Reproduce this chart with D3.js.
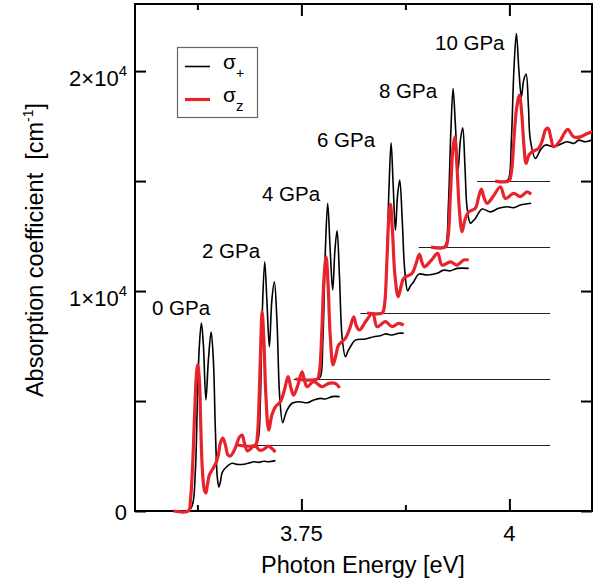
<!DOCTYPE html>
<html><head><meta charset="utf-8">
<script src="https://cdn.jsdelivr.net/npm/d3@7"></script>
<style>
body{margin:0;background:#fff}
svg{display:block}
text{font-family:"Liberation Sans",Arial,Helvetica,sans-serif;fill:#000}
</style>
</head><body>
<svg id="c" width="604" height="586"></svg>
<script>
// ---------------- data ----------------
const pressures = ["0 GPa","2 GPa","4 GPa","6 GPa","8 GPa","10 GPa"];
const offsets = [0, 3000, 6000, 9000, 12000, 15000];
const baselineStart = [null, 3.6715, 3.7407, 3.8209, 3.8910, 3.9612];
const baselineEnd = 4.049;

const xMajorTicks = [3.75, 4.0];
const xMinorTicks = [3.625, 3.875];
const xTickLabels = ["3.75", "4"];
const yMajorTicks = [0, 10000, 20000];
const yMinorTicks = [5000, 15000];
const yTickMantissa = ["0", "1\u00d710", "2\u00d710"];
const yTickExponent = ["", "4", "4"];

const sigmaPlus_0 = [[3.5986,0],[3.6142,0],[3.6190,270],[3.6226,1860],[3.6250,5050],[3.6274,7550],[3.6298,8550],[3.6322,7550],[3.6352,5050],[3.6382,6860],[3.6415,8140],[3.6442,6860],[3.6466,3680],[3.6490,1500],[3.6508,1090],[3.6526,1320],[3.6550,1770],[3.6599,2000],[3.6667,2170],[3.6727,2120],[3.6827,2140],[3.6887,2200],[3.6927,2240],[3.6987,2210],[3.7047,2260],[3.7107,2240],[3.7188,2290]];
const sigmaZ_0 = [[3.5962,0],[3.6142,0],[3.6166,500],[3.6190,1860],[3.6214,4140],[3.6238,6180],[3.6254,6640],[3.6274,5950],[3.6292,3680],[3.6310,1860],[3.6334,950],[3.6352,820],[3.6370,1180],[3.6394,1640],[3.6427,1860],[3.6454,2050],[3.6478,2230],[3.6502,2550],[3.6526,3090],[3.6556,3320],[3.6587,3000],[3.6617,2550],[3.6647,2500],[3.6683,2680],[3.6719,3000],[3.6755,3360],[3.6787,3450],[3.6815,3090],[3.6851,2730],[3.6887,2820],[3.6923,2950],[3.6959,2910],[3.6995,2770],[3.7031,2770],[3.7067,2860],[3.7103,2950],[3.7139,2860],[3.7188,2680]];

const sigmaPlus_2 = [[3.6727,0],[3.6947,0],[3.6983,320],[3.7007,2050],[3.7031,6140],[3.7059,8330],[3.7085,6590],[3.7115,4470],[3.7145,6590],[3.7175,7420],[3.7206,5680],[3.7239,2200],[3.7275,1010],[3.7302,1320],[3.7328,1590],[3.7388,1900],[3.7468,1970],[3.7569,1920],[3.7648,2050],[3.7728,2120],[3.7788,2090],[3.7869,2200],[3.7960,2200]];
const sigmaZ_2 = [[3.6727,0],[3.6947,0],[3.6971,450],[3.6995,2500],[3.7013,4770],[3.7028,6060],[3.7049,4770],[3.7073,2270],[3.7107,680],[3.7145,1360],[3.7188,1740],[3.7248,1970],[3.7296,2500],[3.7340,3110],[3.7374,2590],[3.7407,2270],[3.7458,2730],[3.7508,3330],[3.7536,2950],[3.7569,2650],[3.7648,2880],[3.7749,2650],[3.7828,2800],[3.7909,2800],[3.7960,2600]];

const sigmaPlus_4 = [[3.7428,0],[3.7692,0],[3.7728,100],[3.7758,1770],[3.7788,5860],[3.7816,7990],[3.7846,5860],[3.7876,4050],[3.7903,5860],[3.7929,6740],[3.7957,4730],[3.7989,1920],[3.8029,1010],[3.8059,1270],[3.8089,1470],[3.8149,1770],[3.8269,1820],[3.8369,1920],[3.8450,1970],[3.8510,2050],[3.8590,2000],[3.8669,2080],[3.8730,2080]];
const sigmaZ_4 = [[3.7428,0],[3.7689,0],[3.7716,320],[3.7746,2230],[3.7770,4500],[3.7797,5560],[3.7821,4270],[3.7846,2000],[3.7881,640],[3.7915,1090],[3.7948,1550],[3.8029,1850],[3.8083,2320],[3.8129,2830],[3.8161,2410],[3.8197,2230],[3.8269,2590],[3.8357,2990],[3.8410,2380],[3.8510,2610],[3.8590,2380],[3.8669,2530],[3.8730,2450]];

const sigmaPlus_6 = [[3.8290,0],[3.8462,0],[3.8489,90],[3.8522,1950],[3.8552,5590],[3.8578,7740],[3.8603,5820],[3.8630,3770],[3.8656,5360],[3.8682,6050],[3.8712,4230],[3.8742,1950],[3.8778,1010],[3.8810,1230],[3.8850,1420],[3.8910,1770],[3.9011,1730],[3.9131,1810],[3.9210,1950],[3.9291,1920],[3.9371,2030],[3.9511,2030]];
const sigmaZ_6 = [[3.8290,0],[3.8470,0],[3.8498,360],[3.8528,2410],[3.8549,4230],[3.8570,4950],[3.8594,3770],[3.8624,1730],[3.8663,740],[3.8696,1180],[3.8730,1580],[3.8831,1810],[3.8876,2230],[3.8918,2680],[3.8948,2320],[3.8978,2100],[3.9063,2410],[3.9138,2710],[3.9191,2180],[3.9291,2330],[3.9371,2180],[3.9451,2410],[3.9511,2410]];

const sigmaPlus_8 = [[3.9059,0],[3.9207,0],[3.9237,140],[3.9267,1910],[3.9297,5320],[3.9323,7210],[3.9351,5550],[3.9383,3500],[3.9411,4860],[3.9439,5420],[3.9465,3730],[3.9492,1760],[3.9531,1080],[3.9561,1180],[3.9591,1300],[3.9672,1730],[3.9772,1600],[3.9871,1760],[3.9972,1830],[4.0052,1790],[4.0132,1910],[4.0261,1990]];
const sigmaZ_8 = [[3.9059,0],[3.9231,0],[3.9261,410],[3.9291,2360],[3.9319,4410],[3.9343,5010],[3.9369,3730],[3.9399,1680],[3.9431,700],[3.9465,1230],[3.9511,1600],[3.9591,1760],[3.9627,2230],[3.9663,2640],[3.9696,2230],[3.9732,1990],[3.9808,2320],[3.9892,2740],[3.9952,2210],[4.0052,2440],[4.0132,2290],[4.0213,2510],[4.0261,2400]];

const sigmaPlus_10 = [[3.9832,0],[3.9964,0],[3.9994,140],[4.0024,1860],[4.0054,5050],[4.0084,6710],[4.0114,5050],[4.0144,3830],[4.0172,4590],[4.0201,4860],[4.0228,3450],[4.0252,1860],[4.0313,1030],[4.0373,1410],[4.0433,1640],[4.0532,1560],[4.0633,1710],[4.0694,1790],[4.0773,1710],[4.0833,1860],[4.0913,1790],[4.0994,1860],[4.1100,1880]];
const sigmaZ_10 = [[3.9832,0],[3.9992,0],[4.0024,410],[4.0054,1860],[4.0084,3230],[4.0120,3910],[4.0150,3000],[4.0174,1640],[4.0201,800],[4.0234,1180],[4.0273,1330],[4.0352,1490],[4.0397,1860],[4.0433,2320],[4.0465,2400],[4.0499,1960],[4.0532,1560],[4.0613,1860],[4.0661,2180],[4.0701,2350],[4.0773,2010],[4.0853,2010],[4.0925,2140],[4.0994,2240],[4.1100,2300]];

const sigmaPlusSeries = [sigmaPlus_0, sigmaPlus_2, sigmaPlus_4, sigmaPlus_6, sigmaPlus_8, sigmaPlus_10];
const sigmaZSeries = [sigmaZ_0, sigmaZ_2, sigmaZ_4, sigmaZ_6, sigmaZ_8, sigmaZ_10];

// ---------------- layout ----------------
const plot = {left: 135, right: 592, top: 4, bottom: 511};
const labelPos = [[152,315],[202,258],[262,200.5],[317,146.5],[379,97.5],[435,49.5]];
const RED = "#e8232b";

const svg = d3.select("#c");
const x = d3.scaleLinear().domain([3.55, 4.1]).range([plot.left, plot.right + 0.6]);
const y = d3.scaleLinear().domain([0, 23050]).range([plot.bottom, plot.top]);

svg.append("defs").append("clipPath").attr("id","clip")
  .append("rect").attr("x", plot.left).attr("y", plot.top)
  .attr("width", plot.right - plot.left).attr("height", plot.bottom - plot.top + 3);

// axes (ticks inward)
function axisStyle(sel) {
  sel.select(".domain").remove();
  sel.selectAll("line").attr("stroke","#000").attr("stroke-width",2);
  sel.selectAll("text").remove();
}
svg.append("g").attr("transform",`translate(0,${plot.bottom})`)
  .call(d3.axisBottom(x).tickValues(xMajorTicks).tickSize(-12)).call(axisStyle);
svg.append("g").attr("transform",`translate(0,${plot.bottom})`)
  .call(d3.axisBottom(x).tickValues(xMinorTicks).tickSize(-6)).call(axisStyle);
svg.append("g").attr("transform",`translate(0,${plot.top})`)
  .call(d3.axisTop(x).tickValues(xMajorTicks).tickSize(-12)).call(axisStyle);
svg.append("g").attr("transform",`translate(0,${plot.top})`)
  .call(d3.axisTop(x).tickValues(xMinorTicks).tickSize(-6)).call(axisStyle);
svg.append("g").attr("transform",`translate(${plot.left},0)`)
  .call(d3.axisLeft(y).tickValues(yMajorTicks.concat(yMinorTicks)).tickSize(-11)).call(axisStyle);
svg.append("g").attr("transform",`translate(${plot.right},0)`)
  .call(d3.axisRight(y).tickValues(yMajorTicks.concat(yMinorTicks)).tickSize(-11)).call(axisStyle);

// frame
svg.append("rect").attr("x", plot.left).attr("y", plot.top)
  .attr("width", plot.right - plot.left).attr("height", plot.bottom - plot.top)
  .attr("fill","none").attr("stroke","#000").attr("stroke-width",2);

const g = svg.append("g").attr("clip-path","url(#clip)");

// baselines
offsets.forEach((off, i) => {
  if (baselineStart[i] == null) return;
  const yy = Math.round(y(off)) + 0.5;
  g.append("line")
    .attr("x1", x(baselineStart[i])).attr("x2", x(baselineEnd))
    .attr("y1", yy).attr("y2", yy)
    .attr("stroke", "#222").attr("stroke-width", 1);
});

const line = d3.line().curve(d3.curveCatmullRom.alpha(0.5));

sigmaPlusSeries.forEach((s, i) => {
  g.append("path")
    .attr("d", line(s.map(d => [x(d[0]), y(d[1] + offsets[i])])))
    .attr("fill","none").attr("stroke","#000").attr("stroke-width",1.6)
    .attr("stroke-linejoin","round");
});
sigmaZSeries.forEach((s, i) => {
  g.append("path")
    .attr("d", line(s.map(d => [x(d[0]), y(d[1] + offsets[i])])))
    .attr("fill","none").attr("stroke",RED).attr("stroke-width",3.2)
    .attr("stroke-linejoin","round");
});

// pressure labels
pressures.forEach((p, i) => {
  svg.append("text").attr("x", labelPos[i][0]).attr("y", labelPos[i][1])
    .attr("font-size", 20.5).text(p);
});

// tick labels
xMajorTicks.forEach((t, i) => {
  svg.append("text").attr("x", x(t)).attr("y", 540.5)
    .attr("text-anchor","middle").attr("font-size",22).text(xTickLabels[i]);
});
yMajorTicks.forEach((t, i) => {
  const txt = svg.append("text").attr("x", 127)
    .attr("y", y(t) + (yTickExponent[i] ? 14.5 : 8.5))
    .attr("text-anchor","end").attr("font-size",22);
  txt.append("tspan").text(yTickMantissa[i]);
  if (yTickExponent[i]) txt.append("tspan").attr("dy", -10).attr("font-size",15).text(yTickExponent[i]);
});

// axis titles
svg.append("text").attr("x", (plot.left + plot.right)/2 - 0.5).attr("y", 573)
  .attr("text-anchor","middle").attr("font-size",23.5).text("Photon Energy [eV]");
const yt = svg.append("text").attr("transform","translate(43,250) rotate(-90)")
  .attr("text-anchor","middle").attr("font-size",23.5).attr("xml:space","preserve")
  .style("white-space","pre");
yt.append("tspan").text("Absorption coefficient  [cm");
yt.append("tspan").attr("dy",-10).attr("font-size",14).text("-1");
yt.append("tspan").attr("dy",10).text("]");

// legend
const lg = svg.append("g");
lg.append("rect").attr("x",177.5).attr("y",47.5).attr("width",80).attr("height",70)
  .attr("fill","#fff").attr("stroke","#666").attr("stroke-width",1.2);
lg.append("line").attr("x1",185).attr("x2",210).attr("y1",66.5).attr("y2",66.5)
  .attr("stroke","#000").attr("stroke-width",1.6);
lg.append("line").attr("x1",185).attr("x2",210).attr("y1",99.5).attr("y2",99.5)
  .attr("stroke",RED).attr("stroke-width",3.2);
const l1 = lg.append("text").attr("x",223).attr("y",69).attr("font-size",21);
l1.append("tspan").text("\u03c3");
l1.append("tspan").attr("dy",9).attr("font-size",14).text("+");
const l2 = lg.append("text").attr("x",223).attr("y",101.5).attr("font-size",21);
l2.append("tspan").text("\u03c3");
l2.append("tspan").attr("dy",9).attr("font-size",15).text("z");
</script>
</body></html>
